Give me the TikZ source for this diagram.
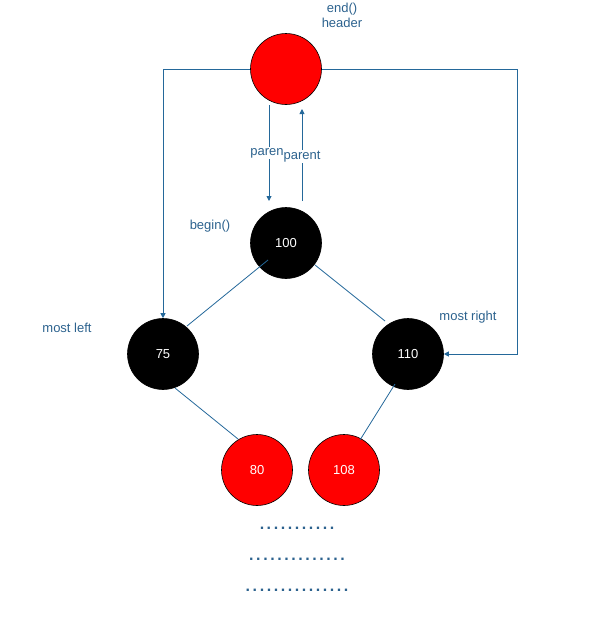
\documentclass[tikz,border=0pt]{standalone}
\usepackage{fontspec}
\setmainfont{Liberation Sans}
\newfontfamily\dotfont[LetterSpace=16]{Liberation Sans}
\usetikzlibrary{arrows.meta}
\definecolor{edgeblue}{RGB}{36,104,154}
\definecolor{txtblue}{RGB}{44,98,142}
\tikzset{
  rbnode/.style={circle, minimum size=71pt, inner sep=0pt, draw=black, line width=0.6pt, text=white, font=\fontsize{13}{15}\selectfont},
  rednode/.style={rbnode, fill=red},
  blknode/.style={rbnode, fill=black},
  lbl/.style={text=txtblue, font=\fontsize{13}{15}\selectfont, inner sep=1pt},
  treeedge/.style={draw=edgeblue, line width=0.8pt},
  ptr/.style={draw=edgeblue, line width=0.9pt, -{Triangle[length=5pt,width=5pt]}},
  dotrow/.style={text=txtblue, font=\dotfont\bfseries\fontsize{16}{18}\selectfont, inner sep=0pt}
}
\begin{document}
\begin{tikzpicture}[x=1pt,y=-1pt]
\useasboundingbox (0,0) rectangle (606,621);
% nodes
\node[rednode] (hdr) at (286,69) {};
\node[blknode] (n100) at (286,243) {100};
\node[blknode] (n75) at (163,354) {75};
\node[blknode] (n110) at (408,354) {110};
\node[rednode] (n80) at (257,470) {80};
\node[rednode] (n108) at (344,470) {108};
% labels
\node[lbl, align=center] (hdrlbl) at (342,15) {end()\\header};
\node[lbl] (beginlbl) at (210,226) {begin()};
\node[lbl] (leftlbl) at (67,328) {most left};
\node[lbl] (rightlbl) at (468,317) {most right};
% tree edges
\coordinate (e1a) at (268,260); \coordinate (e1b) at (187,326);
\coordinate (e2a) at (315,265); \coordinate (e2b) at (385,321);
\coordinate (e3a) at (175,388); \coordinate (e3b) at (238,439);
\coordinate (e4a) at (395,384); \coordinate (e4b) at (360,440);
\draw[treeedge] (e1a) -- (e1b);
\draw[treeedge] (e2a) -- (e2b);
\draw[treeedge] (e3a) -- (e3b);
\draw[treeedge] (e4a) -- (e4b);
% header pointers
\draw[ptr] (hdr.west) -| (n75.north);
\draw[ptr] (hdr.east) -| (517,354) -- (n110.east);
% parent arrows
\coordinate (pa) at (269,105); \coordinate (pb) at (269,201);
\coordinate (qa) at (302,201); \coordinate (qb) at (302,109);
\draw[ptr] (pa) -- node[lbl, fill=white, pos=0.5, xshift=-2pt] (parenlbl) {paren} (pb);
\draw[ptr] (qa) -- node[lbl, fill=white, pos=0.48] (parentlbl) {parent} (qb);
% dots
\node[dotrow] (d1) at (297,528) {...........};
\node[dotrow] (d2) at (297,559) {..............};
\node[dotrow] (d3) at (297,590) {...............};
\end{tikzpicture}
\end{document}
